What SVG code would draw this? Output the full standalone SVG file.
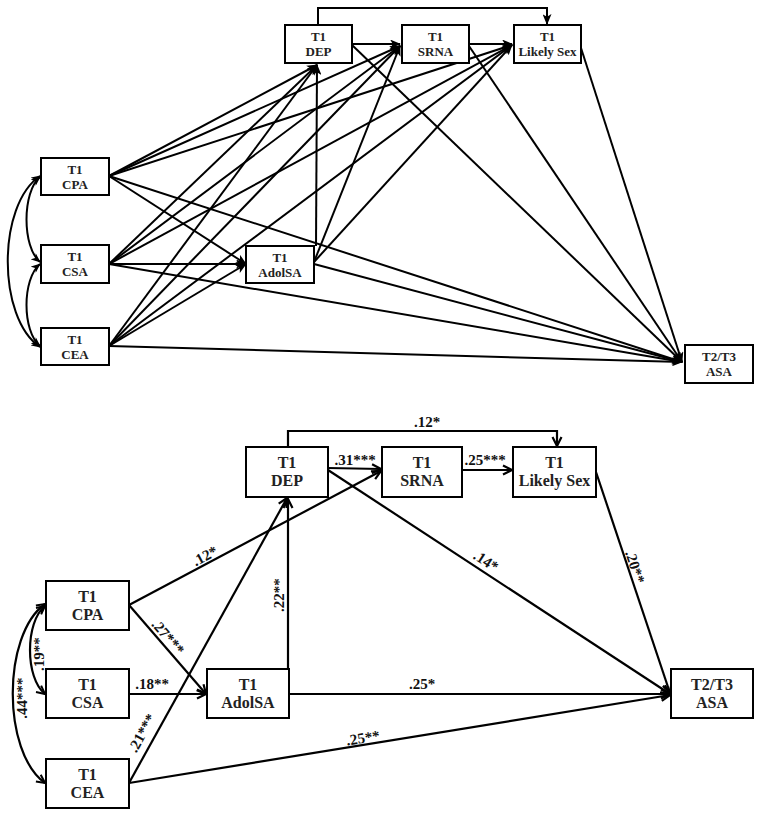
<svg xmlns="http://www.w3.org/2000/svg" width="762" height="817" viewBox="0 0 762 817">
<style>
.box{fill:#fff;stroke:#000;stroke-width:2}
.t{font-family:"Liberation Serif","Times New Roman",serif;font-weight:bold;fill:#222;text-anchor:middle}
.ts{font-size:13px}
.tb{font-size:16px}
.lbl{font-family:"Liberation Serif","Times New Roman",serif;font-weight:bold;font-size:15px;fill:#111;text-anchor:middle}
.c1 line,.c1 path{stroke:#000;stroke-width:2;fill:none;marker-end:url(#af)}
.c2 line,.c2 path{stroke:#000;stroke-width:2.2;fill:none;marker-end:url(#ao)}
</style>
<defs>
<marker id="af" viewBox="0 0 12 10" refX="11" refY="5" markerWidth="11" markerHeight="9" markerUnits="userSpaceOnUse" orient="auto"><path d="M0,0 L12,5 L0,10 L3,5 z" fill="#000"/></marker>
<marker id="afs" viewBox="0 0 12 10" refX="11" refY="5" markerWidth="10" markerHeight="8" markerUnits="userSpaceOnUse" orient="auto-start-reverse"><path d="M0,0 L12,5 L0,10 L3,5 z" fill="#000"/></marker>
<marker id="ao" viewBox="0 0 12 12" refX="11" refY="6" markerWidth="12" markerHeight="12" markerUnits="userSpaceOnUse" orient="auto"><path d="M2,1.5 L11,6 L2,10.5" fill="none" stroke="#000" stroke-width="2.2"/></marker>
<marker id="aos" viewBox="0 0 12 12" refX="11" refY="6" markerWidth="11" markerHeight="11" markerUnits="userSpaceOnUse" orient="auto-start-reverse"><path d="M2,1.5 L11,6 L2,10.5" fill="none" stroke="#000" stroke-width="2.2"/></marker>
</defs>
<rect width="762" height="817" fill="#fff"/>

<!-- TOP DIAGRAM connectors -->
<g id="top-connectors" class="c1">
<line x1="109" y1="176" x2="317" y2="65"/>
<line x1="109" y1="176" x2="400" y2="46"/>
<line x1="109" y1="176" x2="512" y2="45"/>
<line x1="109" y1="176" x2="246" y2="264"/>
<line x1="109" y1="176" x2="682" y2="362"/>
<line x1="109" y1="264" x2="317" y2="65"/>
<line x1="109" y1="264" x2="400" y2="46"/>
<line x1="109" y1="264" x2="512" y2="45"/>
<line x1="109" y1="264" x2="246" y2="264"/>
<line x1="109" y1="264" x2="682" y2="362"/>
<line x1="109" y1="346" x2="317" y2="65"/>
<line x1="109" y1="346" x2="400" y2="46"/>
<line x1="109" y1="346" x2="512" y2="45"/>
<line x1="109" y1="346" x2="246" y2="264"/>
<line x1="109" y1="346" x2="682" y2="362"/>
<line x1="316" y1="246" x2="317" y2="65"/>
<line x1="314" y1="262" x2="400" y2="46"/>
<line x1="314" y1="262" x2="512" y2="45"/>
<line x1="314" y1="264" x2="682" y2="362"/>
<line x1="352" y1="44" x2="400" y2="44"/>
<path d="M318,25 V8 H547 V24"/>
<line x1="352" y1="45" x2="682" y2="362"/>
<line x1="469" y1="44" x2="512" y2="44"/>
<line x1="469" y1="46" x2="682" y2="362"/>
<line x1="581" y1="48" x2="682" y2="362"/>
<path d="M40,177 C22,192 22,247 40,262" style="marker-start:url(#afs);marker-end:url(#afs)"/>
<path d="M40,264 C22,279 22,331 40,346" style="marker-start:url(#afs);marker-end:url(#afs)"/>
<path d="M40,176 C-3,205 -3,318 40,347" style="marker-start:url(#afs);marker-end:url(#afs)"/>
</g>

<!-- TOP DIAGRAM nodes -->
<g id="top-dep"><rect class="box" x="285" y="25" width="67" height="38"/><text class="t ts" x="318.5" y="41">T1</text><text class="t ts" x="318.5" y="56">DEP</text></g>
<g id="top-srna"><rect class="box" x="402" y="25" width="67" height="38"/><text class="t ts" x="435.5" y="41">T1</text><text class="t ts" x="435.5" y="56">SRNA</text></g>
<g id="top-likely"><rect class="box" x="514" y="25" width="67" height="38"/><text class="t ts" x="547.5" y="41">T1</text><text class="t ts" x="547.5" y="56">Likely Sex</text></g>
<g id="top-cpa"><rect class="box" x="41" y="158" width="68" height="37"/><text class="t ts" x="75" y="174">T1</text><text class="t ts" x="75" y="189">CPA</text></g>
<g id="top-csa"><rect class="box" x="41" y="245" width="68" height="38"/><text class="t ts" x="75" y="261">T1</text><text class="t ts" x="75" y="276">CSA</text></g>
<g id="top-cea"><rect class="box" x="41" y="328" width="68" height="37"/><text class="t ts" x="75" y="344">T1</text><text class="t ts" x="75" y="359">CEA</text></g>
<g id="top-adolsa"><rect class="box" x="246" y="246" width="68" height="37"/><text class="t ts" x="280" y="262">T1</text><text class="t ts" x="280" y="277">AdolSA</text></g>
<g id="top-asa"><rect class="box" x="685" y="345" width="68" height="38"/><text class="t ts" x="719" y="361">T2/T3</text><text class="t ts" x="719" y="376">ASA</text></g>

<!-- BOTTOM DIAGRAM connectors -->
<g id="bottom-connectors" class="c2">
<line x1="129" y1="605" x2="381" y2="471"/>
<line x1="129" y1="605" x2="206" y2="694"/>
<line x1="129" y1="694" x2="206" y2="694"/>
<line x1="129" y1="783" x2="287" y2="498"/>
<line x1="129" y1="783" x2="670" y2="695"/>
<line x1="288" y1="669" x2="288" y2="499"/>
<line x1="289" y1="694" x2="670" y2="694"/>
<line x1="328" y1="468" x2="381" y2="469"/>
<path d="M288,447 V431 H557 V446"/>
<line x1="328" y1="470" x2="670" y2="694"/>
<line x1="462" y1="470" x2="512" y2="470"/>
<line x1="596" y1="472" x2="670" y2="693"/>
<path d="M45,606 C25,622 25,678 45,694" style="marker-start:url(#aos);marker-end:url(#aos)"/>
<path d="M45,604 C2,635 2,752 45,783" style="marker-start:url(#aos);marker-end:url(#aos)"/>
</g>

<!-- BOTTOM labels -->
<g id="bottom-labels">
<text class="lbl" x="427" y="427">.12*</text>
<text class="lbl" x="355" y="465">.31***</text>
<text class="lbl" x="485" y="465">.25***</text>
<text class="lbl" x="152" y="689">.18**</text>
<text class="lbl" x="422" y="689">.25*</text>
<text class="lbl" transform="translate(363,738) rotate(-9)" y="5">.25**</text>
<text class="lbl" transform="translate(205,556) rotate(-28)" y="5">.12*</text>
<text class="lbl" transform="translate(168,637) rotate(49)" y="5">.27***</text>
<text class="lbl" transform="translate(142,733) rotate(-61)" y="5">.21***</text>
<text class="lbl" transform="translate(279,595) rotate(-90)" y="5">.22**</text>
<text class="lbl" transform="translate(486,561) rotate(33)" y="5">.14*</text>
<text class="lbl" transform="translate(635,567) rotate(72)" y="5">.20**</text>
<text class="lbl" transform="translate(39,654) rotate(-90)" y="5">.19**</text>
<text class="lbl" transform="translate(22,698) rotate(-90)" y="5">.44***</text>
</g>

<!-- BOTTOM nodes -->
<g id="bot-dep"><rect class="box" x="246" y="447" width="82" height="50"/><text class="t tb" x="287" y="468">T1</text><text class="t tb" x="287" y="486">DEP</text></g>
<g id="bot-srna"><rect class="box" x="382" y="447" width="80" height="50"/><text class="t tb" x="422" y="468">T1</text><text class="t tb" x="422" y="486">SRNA</text></g>
<g id="bot-likely"><rect class="box" x="513" y="447" width="83" height="50"/><text class="t tb" x="554.5" y="468">T1</text><text class="t tb" x="554.5" y="486">Likely Sex</text></g>
<g id="bot-cpa"><rect class="box" x="46" y="581" width="83" height="49"/><text class="t tb" x="87.5" y="602">T1</text><text class="t tb" x="87.5" y="620">CPA</text></g>
<g id="bot-csa"><rect class="box" x="46" y="669" width="83" height="49"/><text class="t tb" x="87.5" y="690">T1</text><text class="t tb" x="87.5" y="708">CSA</text></g>
<g id="bot-cea"><rect class="box" x="46" y="759" width="83" height="49"/><text class="t tb" x="87.5" y="780">T1</text><text class="t tb" x="87.5" y="798">CEA</text></g>
<g id="bot-adolsa"><rect class="box" x="207" y="669" width="82" height="49"/><text class="t tb" x="248" y="690">T1</text><text class="t tb" x="248" y="708">AdolSA</text></g>
<g id="bot-asa"><rect class="box" x="671" y="669" width="82" height="49"/><text class="t tb" x="712" y="690">T2/T3</text><text class="t tb" x="712" y="708">ASA</text></g>
</svg>
